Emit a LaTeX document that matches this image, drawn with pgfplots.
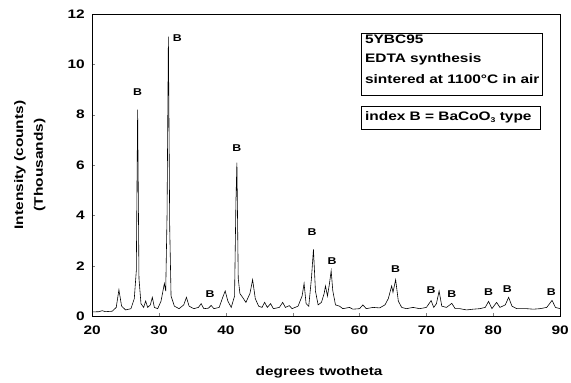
\documentclass[border=0pt]{standalone}
\usepackage{pgfplots}
\pgfplotsset{compat=1.18}
\usepackage{fontspec}
\setmainfont{Liberation Sans}[FakeStretch=1.25, BoldFeatures={FakeStretch=1.25}]
\newcommand{\lbl}{\bfseries\fontsize{12.5}{20}\selectfont}
\newcommand{\bl}{\bfseries\fontsize{10}{11}\selectfont}
\begin{document}
\begin{tikzpicture}
\begin{axis}[
  scale only axis, width=472bp, height=305bp,
  xmin=20, xmax=90, ymin=0, ymax=12,
  xtick={20,30,...,90}, ytick={0,2,...,12},
  tick align=inside, tick pos=left, major tick length=3bp,
  axis line style={black, line width=0.5pt},
  /pgf/number format/assume math mode=true,
  tick label style={font=\lbl},
  xticklabel style={yshift=-6bp},
  yticklabel style={xshift=-4bp},
  xlabel={degrees twotheta},
  xlabel style={font=\lbl, at={(rel axis cs:0.485,-0.184)}, anchor=center},
  ylabel={Intensity (counts)\\(Thousands)},
  ylabel style={font=\lbl, align=center, at={(rel axis cs:-0.1335,0.5)}, anchor=center},
  clip=false,
]
\addplot[black, line width=0.6pt] table {
20.0 0.17
21.0 0.18
21.5 0.22
22.0 0.18
23.0 0.2
23.6 0.35
24.0 1.05
24.4 0.4
25.0 0.25
25.8 0.3
26.3 0.7
26.6 1.8
26.8 8.2
27.0 1.5
27.3 0.5
27.7 0.35
28.0 0.6
28.3 0.35
28.7 0.45
29.0 0.75
29.3 0.35
29.8 0.3
30.3 0.6
30.8 1.3
31.0 1.0
31.2 4.0
31.4 11.1
31.6 3.5
31.8 0.8
32.3 0.4
33.0 0.3
33.7 0.45
34.1 0.75
34.5 0.4
35.2 0.3
35.9 0.35
36.3 0.5
36.7 0.3
37.4 0.32
37.8 0.43
38.2 0.3
39.0 0.35
39.6 0.8
39.9 1.0
40.3 0.6
40.8 0.35
41.3 0.8
41.5 4.5
41.65 6.1
41.85 1.5
42.1 0.9
42.5 0.75
43.0 0.55
43.6 0.9
44.0 1.45
44.4 0.7
44.9 0.4
45.4 0.35
45.8 0.55
46.2 0.35
46.7 0.5
47.1 0.3
48.0 0.35
48.5 0.55
48.9 0.35
49.5 0.42
49.9 0.3
50.8 0.4
51.4 0.8
51.7 1.3
52.0 0.5
52.4 0.4
52.8 1.5
53.1 2.65
53.4 1.0
53.8 0.45
54.3 0.55
54.7 0.9
54.9 1.2
55.2 0.8
55.5 1.3
55.75 1.8
56.0 1.0
56.4 0.45
57.0 0.4
57.5 0.3
58.5 0.35
59.0 0.28
60.0 0.3
60.5 0.45
61.0 0.3
62.0 0.35
63.0 0.33
63.8 0.45
64.3 0.7
64.8 1.2
65.0 0.95
65.4 1.45
65.8 0.6
66.3 0.35
67.0 0.3
68.0 0.35
69.0 0.3
70.0 0.35
70.7 0.62
71.1 0.35
71.5 0.5
71.9 1.0
72.3 0.4
73.0 0.35
73.8 0.51
74.3 0.3
75.0 0.3
76.0 0.25
77.0 0.28
78.0 0.3
78.8 0.35
79.3 0.59
79.8 0.3
80.5 0.55
81.0 0.35
81.8 0.45
82.3 0.75
82.8 0.4
83.5 0.3
85.0 0.3
86.0 0.28
87.0 0.3
88.0 0.35
88.8 0.63
89.3 0.35
90.0 0.3
};
% B labels
\node[font=\bl] at (axis cs:26.8,8.89) {B};
\node[font=\bl] at (axis cs:32.75,11.05) {B};
\node[font=\bl] at (axis cs:37.65,0.87) {B};
\node[font=\bl] at (axis cs:41.65,6.69) {B};
\node[font=\bl] at (axis cs:52.9,3.34) {B};
\node[font=\bl] at (axis cs:55.9,2.2) {B};
\node[font=\bl] at (axis cs:65.4,1.89) {B};
\node[font=\bl] at (axis cs:70.7,1.02) {B};
\node[font=\bl] at (axis cs:73.8,0.87) {B};
\node[font=\bl] at (axis cs:79.3,0.94) {B};
\node[font=\bl] at (axis cs:82.1,1.06) {B};
\node[font=\bl] at (axis cs:88.7,0.94) {B};
% boxes
\draw[black, line width=0.5pt] (axis cs:60.19,11.25) rectangle (axis cs:87.33,8.78);
\draw[black, line width=0.5pt] (axis cs:60.19,8.34) rectangle (axis cs:87.03,7.44);
\node[font=\lbl, anchor=west, inner sep=0pt] at (axis cs:60.80,10.98) {5YBC95};
\node[font=\lbl, anchor=west, inner sep=0pt] at (axis cs:60.80,10.19) {EDTA synthesis};
\node[font=\lbl, anchor=west, inner sep=0pt] at (axis cs:60.80,9.40) {sintered at 1100°C in air};
\node[font=\lbl, anchor=west, inner sep=0pt] at (axis cs:60.80,7.91) {index B = BaCoO\raisebox{-0.35ex}{\fontsize{7}{8}\selectfont 3} type};
\coordinate (BBL) at (axis cs:6.21,-2.64);
\coordinate (BTR) at (axis cs:91.63,12.55);
\end{axis}
\pgfresetboundingbox
\path[use as bounding box] (BBL) rectangle (BTR);
\end{tikzpicture}
\end{document}
